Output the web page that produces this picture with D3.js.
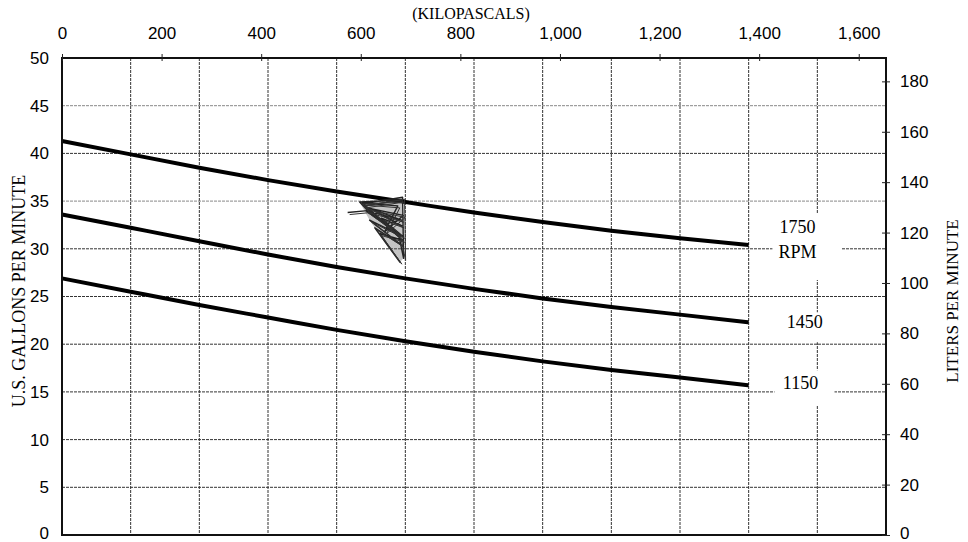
<!DOCTYPE html>
<html><head><meta charset="utf-8">
<script src="https://cdn.jsdelivr.net/npm/d3@7"></script>
<style>body{margin:0;background:#fff}svg{display:block}</style>
</head><body>
<svg id="c" width="968" height="542"></svg>
<script>
// Data
const psiPoints = [0,20,40,60,80,100,120,140,160,180,200];
const gpm1750 = [41.3,39.9,38.5,37.2,36.0,34.9,33.8,32.8,31.9,31.1,30.4];
const gpm1450 = [33.6,32.2,30.8,29.4,28.1,26.9,25.8,24.8,23.9,23.1,22.3];
const gpm1150 = [26.9,25.5,24.1,22.8,21.5,20.3,19.2,18.2,17.3,16.5,15.7];
const rpmLabels = ["1750","1450","1150"];
const kpaTicks = [0,200,400,600,800,1000,1200,1400,1600];
const gpmTicks = [0,5,10,15,20,25,30,35,40,45,50];
const lpmTicks = [0,20,40,60,80,100,120,140,160,180];
const psiGrid = [0,20,40,60,80,100,120,140,160,180,200,220,240];
// pencil scribble (psi, gpm)
const scribblePsi = [83.2,89.0,86.7,98.9,87.9,98.9,88.5,98.6,89.6,98.9,91.1,98.4,92.5,99.2,87.3,99.2,99.5,98.1,87.6,97.8,94.0,99.4,90.0,99.0,93.0,99.6];
const scribbleGpm = [33.8,34.0,34.9,35.1,34.5,33.0,34.0,31.4,33.0,30.4,32.2,28.6,31.6,30.9,34.7,35.4,29.0,31.4,34.8,34.5,31.8,33.5,34.2,32.4,33.2,31.2];

const svg = d3.select("#c");
const L=62, R=886, T=58, B=535;
const x = d3.scaleLinear().domain([0,240]).range([L,R]);
const xk = d3.scaleLinear().domain([0,240*6.89476]).range([L,R]);
const y = d3.scaleLinear().domain([0,50]).range([B,T]);
const yl = d3.scaleLinear().domain([0,50*3.78541]).range([B,T]);

const sans = "Liberation Sans, Arial, sans-serif";
const serif = "Liberation Serif, Times New Roman, serif";

// grid
const g = svg.append("g");
g.selectAll("line.v").data(psiGrid.slice(1,-1)).join("line")
  .attr("x1",d=>x(d)).attr("x2",d=>x(d)).attr("y1",T).attr("y2",B)
  .attr("stroke","#333").attr("stroke-width",1).attr("stroke-dasharray","3,1");
g.selectAll("line.h").data(gpmTicks.slice(1,-1)).join("line")
  .attr("x1",L).attr("x2",R).attr("y1",d=>y(d)).attr("y2",d=>y(d))
  .attr("stroke",d=>(d===35||d===45)?"#888":"#333").attr("stroke-width",1).attr("stroke-dasharray","3,1");

// curves
const line = d3.line().x((d,i)=>x(psiPoints[i])).y(d=>y(d)).curve(d3.curveNatural);
[gpm1750,gpm1450,gpm1150].forEach(s=>{
  svg.append("path").attr("d",line(s)).attr("fill","none").attr("stroke","#000").attr("stroke-width",4);
});

// scribble
const scPts = scribblePsi.map((p,i)=>[x(p),y(scribbleGpm[i])]);
const hull = d3.polygonHull(scPts.slice(2));
svg.append("path").attr("d","M"+hull.join("L")+"Z").attr("fill","#555").attr("fill-opacity",0.35);
const sc = d3.line().x((d,i)=>x(scribblePsi[i])).y(d=>y(d));
svg.append("path").attr("d",sc(scribbleGpm)).attr("fill","none").attr("stroke","#222")
  .attr("stroke-width",1.4).attr("stroke-linejoin","round");
svg.append("path").attr("d",sc(scribbleGpm)).attr("fill","none").attr("stroke","#333")
  .attr("stroke-width",1).attr("transform","translate(2,2)");

// frame
svg.append("rect").attr("x",L).attr("y",T).attr("width",R-L).attr("height",B-T)
  .attr("fill","none").attr("stroke","#111").attr("stroke-width",2);

// top axis (kPa)
const topAxis = d3.axisTop(xk).tickValues(kpaTicks).tickSize(4).tickFormat(d3.format(","));
const ta = svg.append("g").attr("transform",`translate(0,${T+3})`).call(topAxis);
ta.select(".domain").remove();
ta.selectAll(".tick line").attr("stroke","#222").attr("y2",-7);
ta.selectAll(".tick text").attr("y",-22).attr("font-family",sans).attr("font-size",17).attr("fill","#000");
svg.append("text").attr("x",471).attr("y",19).attr("text-anchor","middle")
  .attr("font-family",serif).attr("font-size",16).text("(KILOPASCALS)");

// left axis
const la = svg.append("g").attr("transform",`translate(${L},0)`).call(d3.axisLeft(y).tickValues(gpmTicks).tickSize(0));
la.select(".domain").remove();
la.selectAll(".tick text").attr("x",-13).attr("font-family",sans).attr("font-size",17).attr("fill","#000")
  .attr("dy",d=>d===0?"0.2em":"0.32em");
svg.append("text").attr("transform","translate(25,291) rotate(-90)").attr("text-anchor","middle")
  .attr("font-family",serif).attr("font-size",18).text("U.S. GALLONS PER MINUTE");

// right axis
const ra = svg.append("g").attr("transform",`translate(${R},0)`).call(d3.axisRight(yl).tickValues(lpmTicks).tickSize(4));
ra.select(".domain").remove();
ra.selectAll(".tick line").attr("stroke","#222").attr("x1",-4).attr("x2",4);
ra.selectAll(".tick text").attr("x",14).attr("font-family",sans).attr("font-size",17).attr("fill","#000")
  .attr("dy",d=>d===0?"0.2em":"0.32em");
svg.append("text").attr("transform","translate(958,301) rotate(-90)").attr("text-anchor","middle")
  .attr("font-family",serif).attr("font-size",17).text("LITERS PER MINUTE");

// RPM labels with white knock-out boxes
const lab = svg.append("g");
const labInfo = [
  {t:rpmLabels[0], psi:214.2, gpm:gpm1750[10], dy:-12, box:[-25,-20,69,67], extra:"RPM"},
  {t:rpmLabels[1], psi:216.3, gpm:gpm1450[10], dy:6, box:[-22,-16,43,30]},
  {t:rpmLabels[2], psi:215.1, gpm:gpm1150[10], dy:4, box:[-26,-19,60,35]}
];
labInfo.forEach(d=>{
  const cx = x(d.psi);
  const cy = y(d.gpm)+d.dy;
  lab.append("rect").attr("x",cx+d.box[0]).attr("y",cy+d.box[1]).attr("width",d.box[2]).attr("height",d.box[3]).attr("fill","#fff");
  lab.append("text").attr("x",cx).attr("y",cy).attr("text-anchor","middle")
    .attr("font-family",serif).attr("font-size",18).text(d.t);
  if(d.extra) lab.append("text").attr("x",cx).attr("y",cy+25).attr("text-anchor","middle")
    .attr("font-family",serif).attr("font-size",18).text(d.extra);
});
</script>
</body></html>
